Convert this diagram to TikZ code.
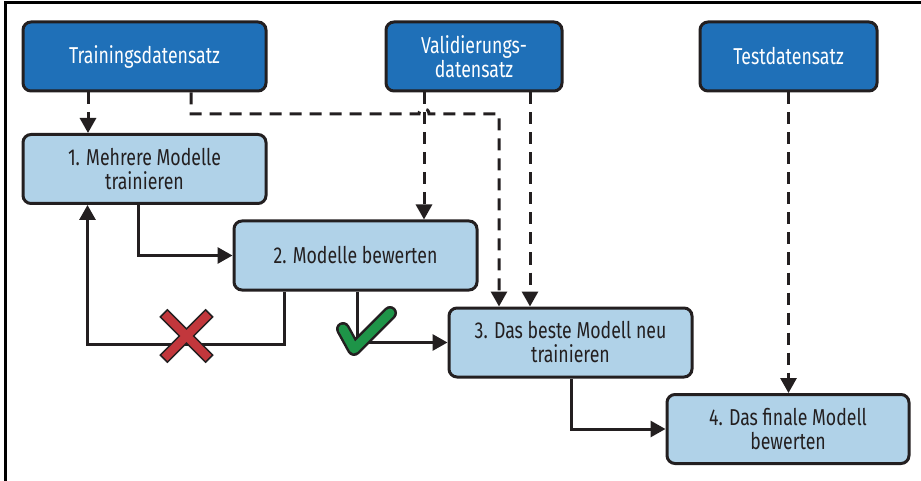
\documentclass[tikz,border=0pt]{standalone}
\usepackage{fontspec}
\setmainfont{Fira Sans}[FakeStretch=0.77]
\usetikzlibrary{arrows.meta}

\definecolor{datacolor}{RGB}{31,112,184}
\definecolor{stagecolor}{RGB}{176,210,232}
\definecolor{linecolor}{RGB}{35,31,32}
\definecolor{crosscolor}{RGB}{194,55,60}
\definecolor{checkcolor}{RGB}{30,148,72}

\begin{document}
\begin{tikzpicture}[x=1pt, y=-1pt, line width=3pt,
    box/.style = {draw=linecolor, rounded corners=8pt, minimum height=69pt, inner sep=0pt, align=center, font=\fontsize{23}{24}\selectfont},
    data/.style = {box, fill=datacolor, text=white},
    stage/.style = {box, fill=stagecolor, text=linecolor, minimum width=243pt},
    flow/.style = {draw=linecolor, -{Triangle[length=15pt,width=16pt]}},
    feed/.style = {flow, dash pattern=on 12pt off 8pt}]
		\useasboundingbox (0,0) rectangle (921,481);
		\draw[black] (5.5,481) -- (5.5,2.5) -- (921,2.5);

		\node[data, minimum width=243pt] (Train) at (144.5,56.5) {Trainingsdatensatz};
		\node[data, minimum width=176pt] (Valid) at (474,56.5) {Validierungs-\\datensatz};
		\node[data, minimum width=177pt] (Test) at (788.5,56.5) {Testdatensatz};

		\node[stage] (Fit) at (144.5,169) {1. Mehrere Modelle\\trainieren};
		\node[stage] (Eval) at (355.5,255.5) {2. Modelle bewerten};
		\node[stage] (Refit) at (570.5,342.5) {3. Das beste Modell neu\\trainieren};
		\node[stage, minimum width=242pt] (Final) at (788,429) {4. Das finale Modell\\bewerten};

		\coordinate (Hop) at (424,114);

		% dashed data feeds
		\draw[feed] ([xshift=-56.5]Train.south) -- ([xshift=-56.5]Fit.north);
		\draw[feed] ([xshift=46.5]Train.south) |- ([xshift=-5]Hop) .. controls +(0,-7) and +(0,-7) .. ([xshift=5]Hop) -| ([xshift=-71.5]Refit.north);
		\draw[feed] ([xshift=-50]Valid.south) -- ([xshift=-50]Valid.south |- Eval.north);
		\draw[feed] ([xshift=56]Valid.south) -- ([xshift=56]Valid.south |- Refit.north);
		\draw[feed] (Test.south) -- (Test.south |- Final.north);

		% model flow
		\draw[flow] ([xshift=-6.5]Fit.south) |- (Eval.west);
		\draw[flow] ([xshift=-71.5]Eval.south) -- ++(0,52.5) -| ([xshift=-57]Fit.south);
		\draw[flow] ([xshift=1.5]Eval.south) |- (Refit.west);
		\draw[flow] ([xshift=0.5]Refit.south) |- (Final.west);

		% rejected / accepted
		\draw[line width=1.5pt, draw=linecolor, fill=crosscolor, shift={(186.5,336)}, rotate=45]
			(5,5) -- (32,5) -- (32,-5) -- (5,-5) -- (5,-32) -- (-5,-32) -- (-5,-5) -- (-32,-5)
			-- (-32,5) -- (-5,5) -- (-5,32) -- (5,32) -- cycle;
		\draw[line width=14pt, draw=linecolor, line cap=round, line join=round] (343,329) -- (354,349) -- (390,313);
		\draw[line width=9pt, draw=checkcolor, line cap=round, line join=round] (343,329) -- (354,349) -- (390,313);
	\end{tikzpicture}
\end{document}
